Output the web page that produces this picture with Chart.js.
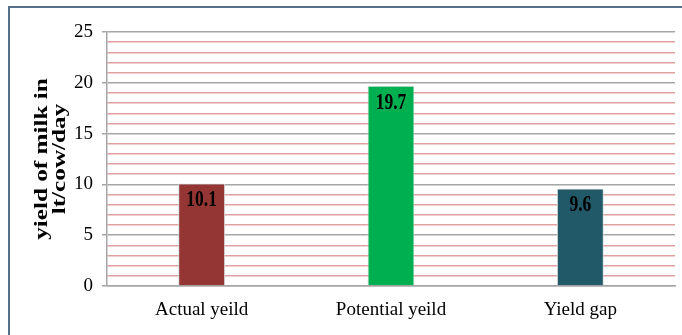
<!DOCTYPE html>
<html><head><meta charset="utf-8">
<script src="https://cdn.jsdelivr.net/npm/chart.js@4/dist/chart.umd.min.js"></script>
<style>html,body{margin:0;padding:0;background:#fff}#wrap{width:682px;height:335px;position:relative}</style>
</head><body><div id="wrap"><canvas id="c" width="682" height="335"></canvas></div>
<script>
const categories = ["Actual yeild", "Potential yeild", "Yield gap"];
const values = [10.1, 19.7, 9.6];
const valueLabels = ["10.1", "19.7", "9.6"];
const barColors = ["#943634", "#00B050", "#215968"];
const yTitle = ["yield of milk in", "lt/cow/day"];
const yMax = 25;

const frame = {
  id: 'frame',
  beforeDraw(chart) {
    const ctx = chart.ctx;
    ctx.save();
    ctx.strokeStyle = '#56708c';
    ctx.lineWidth = 2;
    ctx.strokeRect(9, 7, 700, 340);
    ctx.restore();
  }
};
const yTitlePlugin = {
  id: 'yTitleStretched',
  afterDraw(chart) {
    const ctx = chart.ctx;
    const area = chart.chartArea;
    const cy = (area.top + area.bottom) / 2;
    ctx.save();
    ctx.font = 'bold 18px "Liberation Serif"';
    ctx.fillStyle = '#000';
    ctx.textAlign = 'center';
    ctx.textBaseline = 'middle';
    const xs = [area.left - 65, area.left - 47];
    yTitle.forEach((line, i) => {
      ctx.save();
      ctx.translate(xs[i], cy);
      ctx.rotate(-Math.PI / 2);
      ctx.scale(1.4, 1);
      ctx.fillText(line, 0, 0);
      ctx.restore();
    });
    ctx.restore();
  }
};
const valueLabelPlugin = {
  id: 'valueLabels',
  afterDatasetsDraw(chart) {
    const ctx = chart.ctx;
    const meta = chart.getDatasetMeta(0);
    ctx.save();
    ctx.font = 'bold 17.5px "Liberation Serif"';
    ctx.fillStyle = '#000';
    ctx.textAlign = 'center';
    ctx.textBaseline = 'middle';
    meta.data.forEach((bar, i) => {
      ctx.save();
      ctx.translate(bar.x, bar.y + 17);
      ctx.scale(1, 1.3);
      ctx.fillText(valueLabels[i], 0, 0);
      ctx.restore();
    });
    ctx.restore();
  }
};

new Chart(document.getElementById('c'), {
  type: 'bar',
  data: {
    labels: categories,
    datasets: [{
      data: values,
      backgroundColor: barColors,
      borderColor: '#d8dde0',
      borderWidth: 1,
      barPercentage: 1,
      categoryPercentage: 0.248
    }]
  },
  options: {
    responsive: false,
    animation: false,
    layout: { padding: { top: 32, right: 7, bottom: 0, left: 65 } },
    plugins: { legend: { display: false }, tooltip: { enabled: false } },
    scales: {
      x: {
        grid: { display: true, color: 'rgba(0,0,0,0)', drawTicks: false },
        border: { display: true, color: '#a6a6a6', width: 1.5 },
        ticks: { color: '#000', font: { family: '"Liberation Serif"', size: 19, lineHeight: 1.0 }, padding: 15 }
      },
      y: {
        min: 0, max: yMax,
        border: { display: true, color: '#a6a6a6', width: 1.5 },
        grid: {
          color: c => (c.tick && c.tick.value % 5 === 0) ? '#a6a6a6' : '#e0a0a0',
          tickColor: c => (c.tick && c.tick.value % 5 === 0) ? '#a6a6a6' : 'rgba(0,0,0,0)',
          lineWidth: 1.5,
          tickLength: 5
        },
        ticks: {
          stepSize: 1,
          autoSkip: false,
          color: '#000',
          padding: 9,
          font: { family: '"Liberation Serif"', size: 19 },
          callback: v => (v % 5 === 0 ? v : '')
        },
        title: { display: false, text: yTitle }
      }
    }
  },
  plugins: [frame, yTitlePlugin, valueLabelPlugin]
});
</script></body></html>
